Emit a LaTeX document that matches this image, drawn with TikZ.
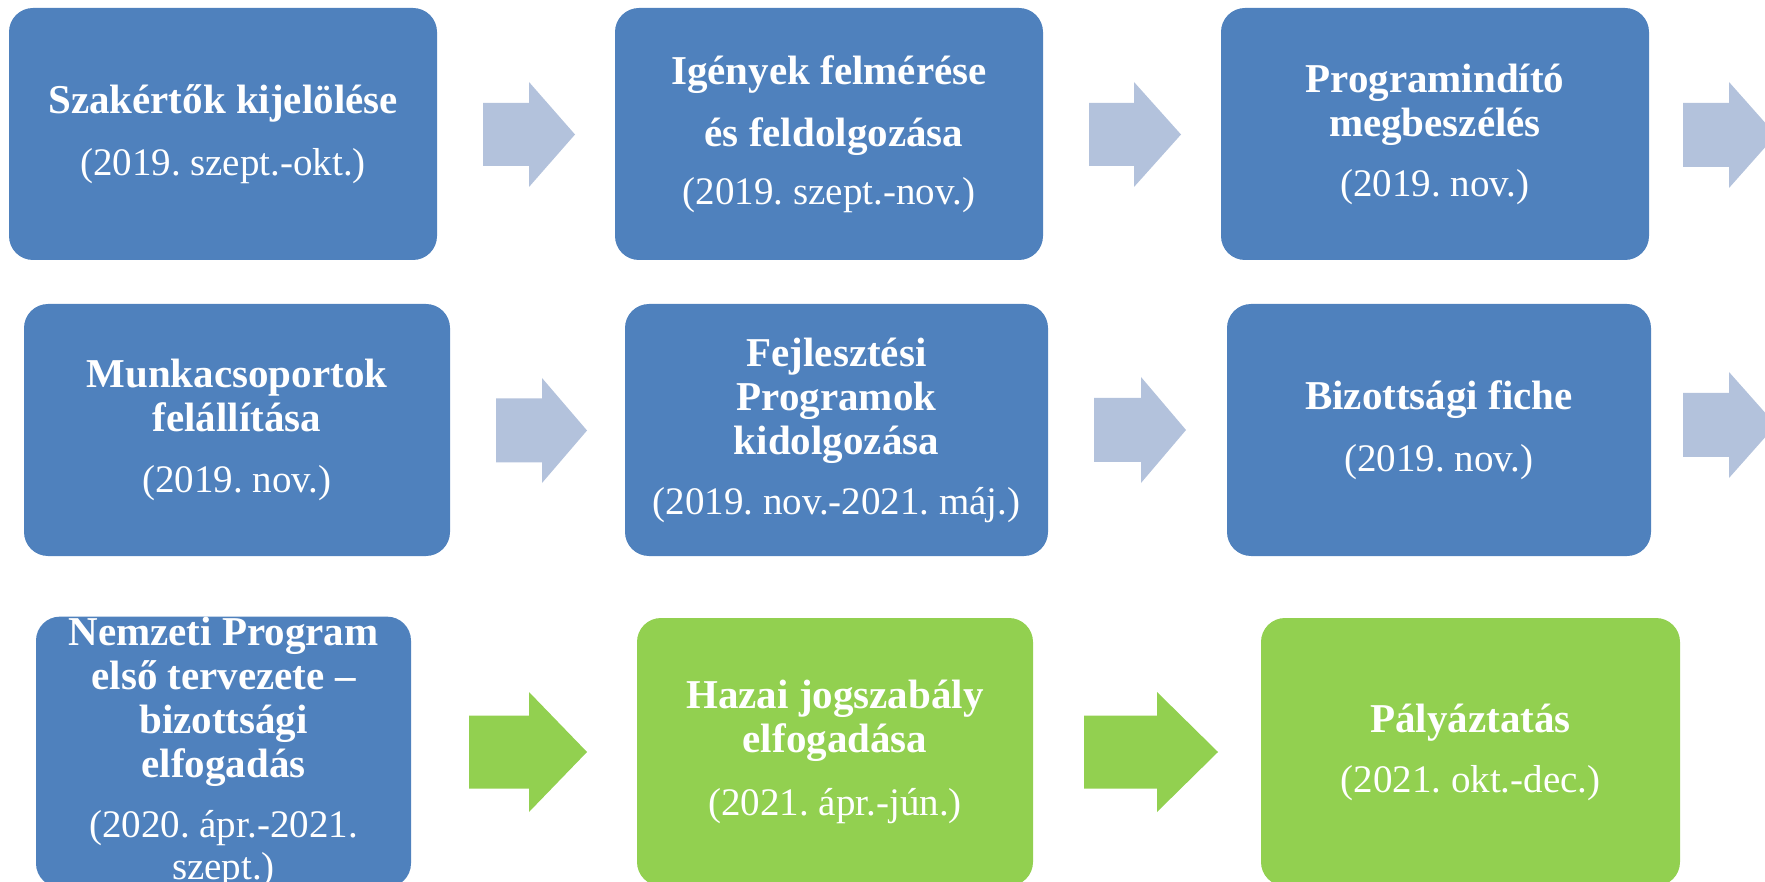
\documentclass[tikz,border=0pt]{standalone}
\usepackage{fontspec}
\setmainfont{Liberation Serif}
\frenchspacing
\definecolor{boxblue}{HTML}{4F81BD}
\definecolor{arrowlight}{HTML}{B3C2DC}
\definecolor{boxgreen}{HTML}{92D050}
\newcommand\barrow[7]{\fill[#1] (#2,#5-#6) -- (#3,#5-#6) -- (#3,#5-#7) -- (#4,#5) -- (#3,#5+#7) -- (#3,#5+#6) -- (#2,#5+#6) -- cycle;}
\newcommand\dt[1]{{\fontsize{39}{44}\selectfont\mdseries #1}}
\tikzset{
  stepbox/.style={rounded corners=24pt, inner sep=0pt, text=white, align=center,
    font=\fontsize{41}{44}\selectfont\bfseries\frenchspacing},
  bluebox/.style={stepbox, fill=boxblue},
  greenbox/.style={stepbox, fill=boxgreen},
}
\begin{document}
\begin{tikzpicture}[x=1pt,y=-1pt]
\useasboundingbox (0,0) rectangle (1765,882);
\clip (0,0) rectangle (1765,882);
% row 1
\node[bluebox, minimum width=428pt, minimum height=252pt] (b1) at (223,134)
  {Szakértők kijelölése\\[18pt]\dt{(2019. szept.-okt.)}};
\node[bluebox, minimum width=428pt, minimum height=252pt] (b2) at (829,134)
  {Igények felmérése\\[18pt]\hspace*{10pt}és feldolgozása\\[14pt]\dt{(2019. szept.-nov.)}};
\node[bluebox, minimum width=428pt, minimum height=252pt] (b3) at (1435,134)
  {Programindító\\megbeszélés\\[16pt]\dt{(2019. nov.)}};
% row 2
\node[bluebox, minimum width=426pt, minimum height=252pt] (b4) at (237,430)
  {Munkacsoportok\\felállítása\\[17pt]\dt{(2019. nov.)}};
\node[bluebox, minimum width=423pt, minimum height=252pt] (b5) at (836.5,430)
  {Fejlesztési\\Programok\\kidolgozása\\[16pt]\dt{(2019. nov.-2021. máj.)}};
\node[bluebox, minimum width=424pt, minimum height=252pt] (b6) at (1439,430)
  {Bizottsági fiche\\[18pt]\dt{(2019. nov.)}};
% row 3
\node[bluebox, minimum width=375pt, minimum height=268pt] (b7) at (223.5,752)
  {Nemzeti Program\\első tervezete –\\bizottsági\\elfogadás\\[16pt]\dt{(2020. ápr.-2021.}\\[-2pt]\dt{szept.)}};
\node[greenbox, minimum width=396pt, minimum height=268pt] (b8) at (835,752)
  {Hazai jogszabály\\elfogadása\\[19pt]\dt{(2021. ápr.-jún.)}};
\node[greenbox, minimum width=419pt, minimum height=268pt] (b9) at (1470.5,752)
  {Pályáztatás\\[16pt]\dt{(2021. okt.-dec.)}};
% arrows
\barrow{arrowlight}{483}{529}{575}{134.5}{31.5}{52.5}
\barrow{arrowlight}{1089}{1134}{1181}{134.5}{31.5}{52.5}
\barrow{arrowlight}{1683}{1729}{1776}{135}{32}{53}
\barrow{arrowlight}{496}{542}{587}{430.5}{32}{52.5}
\barrow{arrowlight}{1094}{1141}{1186}{430}{32}{53}
\barrow{arrowlight}{1683}{1729}{1776}{425}{32}{53}
\barrow{boxgreen}{469}{529}{587}{752}{36.5}{60}
\barrow{boxgreen}{1084}{1157}{1218}{752}{36.5}{60}
\end{tikzpicture}
\end{document}
